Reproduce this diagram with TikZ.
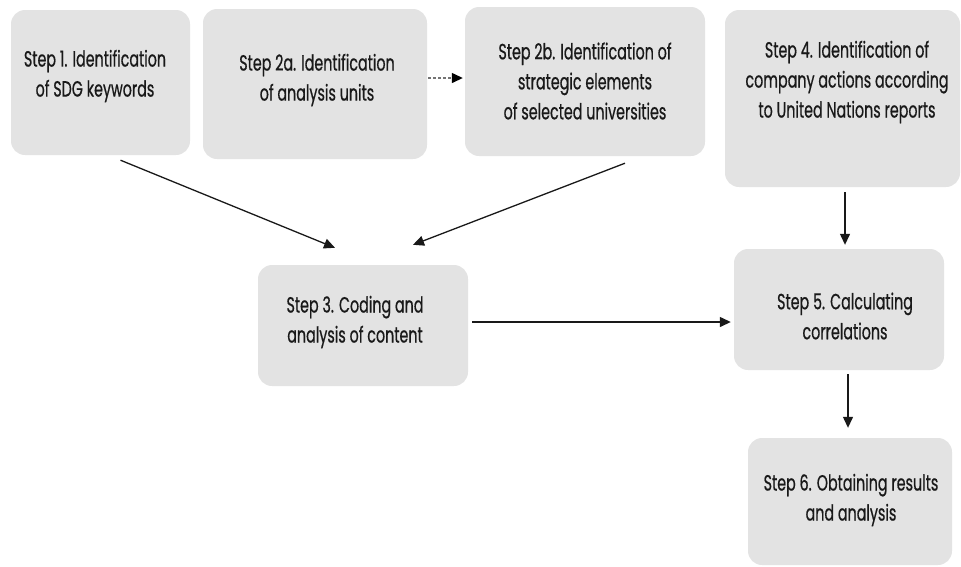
\documentclass[tikz,border=0pt]{standalone}
\usepackage{fontspec}
\setmainfont{Poppins}[FakeStretch=0.65, FakeBold=0.6]
\usetikzlibrary{arrows.meta,calc}
\definecolor{boxgray}{RGB}{227,227,227}
\tikzset{
  stepbox/.style={fill=boxgray, draw=none, rounded corners=14pt, inner sep=0pt},
  steptext/.style={align=center, inner sep=0pt, font=\fontsize{22}{30}\selectfont, text=black!90},
  flow/.style={line width=1.3pt, draw=black!90, -{Triangle[length=11pt,width=10pt]}},
  dflow/.style={line width=1.3pt, draw=black!55, dash pattern=on 3pt off 2pt, -{Triangle[length=11pt,width=10pt,color=black,fill=black]}}
}
\begin{document}
\begin{tikzpicture}[x=1pt,y=-1pt]
\useasboundingbox (0,0) rectangle (961,566);
% boxes
\node[stepbox, minimum width=179pt, minimum height=145pt] (b1) at (100.5,82.5) {};
\node[stepbox, minimum width=224pt, minimum height=150pt] (b2a) at (315,84) {};
\node[stepbox, minimum width=240pt, minimum height=149pt] (b2b) at (585,81.5) {};
\node[stepbox, minimum width=235pt, minimum height=177pt] (b4) at (842.5,98.5) {};
\node[stepbox, minimum width=210pt, minimum height=121pt] (b3) at (363,325.5) {};
\node[stepbox, minimum width=210pt, minimum height=121pt] (b5) at (839,309.5) {};
\node[stepbox, minimum width=204pt, minimum height=127pt] (b6) at (850,501.5) {};
% texts
\node[steptext] (t1) at (95,76) {Step 1. Identification\\of SDG keywords};
\node[steptext] (t2a) at (317,80) {Step 2a. Identification\\of analysis units};
\node[steptext] (t2b) at (585,81) {Step 2b. Identification of\\strategic elements\\of selected universities};
\node[steptext] (t4) at (847,82) {Step 4. Identification of\\company actions according\\to United Nations reports};
\node[steptext] (t3) at (355,322) {Step 3. Coding and\\analysis of content};
\node[steptext] (t5) at (845,316) {Step 5. Calculating\\correlations};
\node[steptext] (t6) at (851,500) {Step 6. Obtaining results\\and analysis};
% connectors
\draw[flow] ($(b1.south)+(20,5)$) -- ($(b3.north)+(-28,-17)$);
\draw[flow] ($(b2b.south)+(40,7)$) -- ($(b3.north)+(50,-20)$);
\draw[dflow] ($(b2a.east)+(1,-6)$) -- ($(b2b.west)+(-2,-3.5)$);
\draw[flow] ($(b4.south)+(2.5,5)$) -- ($(b5.north)+(6,-4)$);
\draw[flow] ($(b3.east)+(4,-3.5)$) -- ($(b5.west)+(-3,12.5)$);
\draw[flow] ($(b5.south)+(9,4)$) -- ($(b6.north)+(-2,-10)$);
\end{tikzpicture}
\end{document}
